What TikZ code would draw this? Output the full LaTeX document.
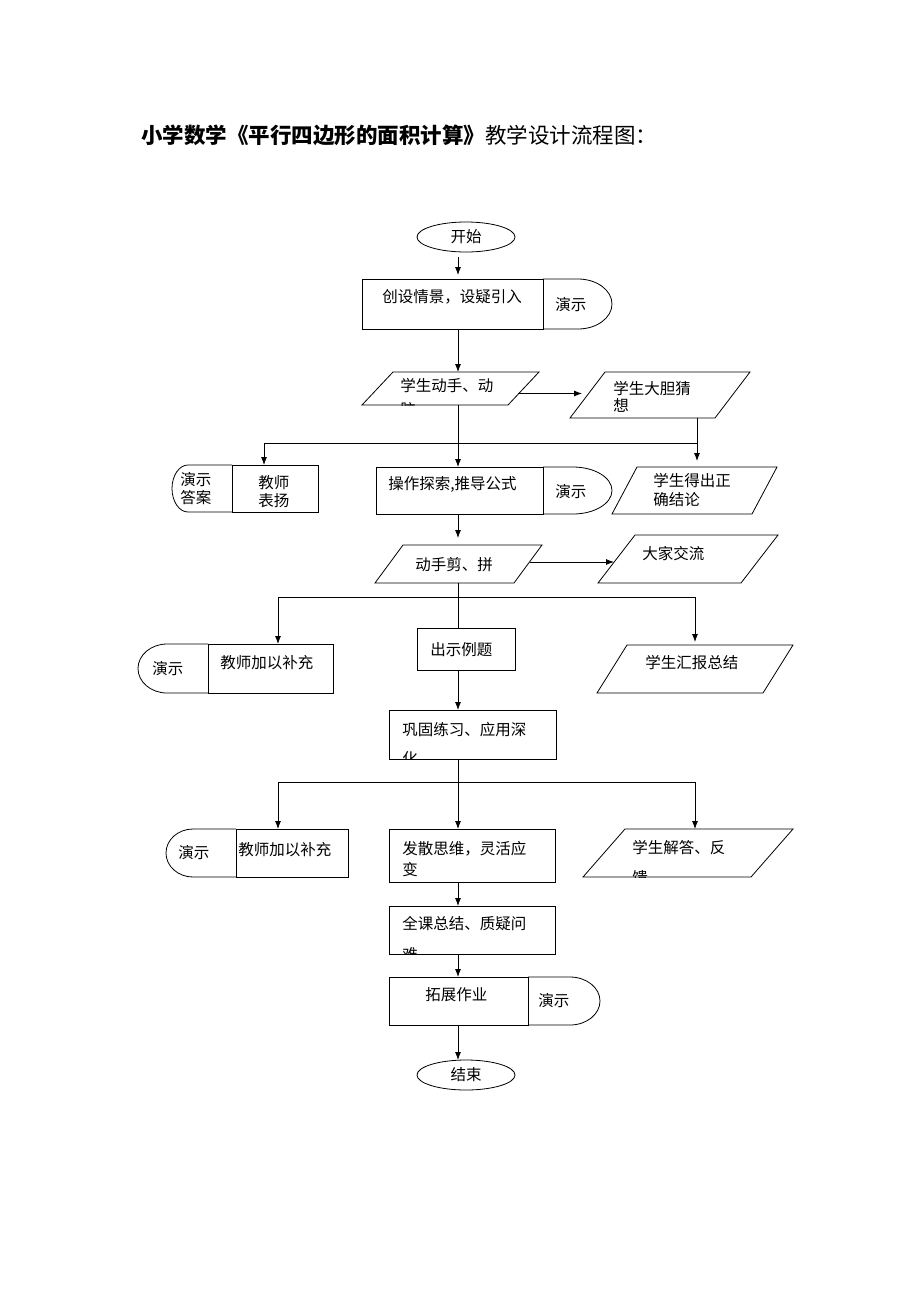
\documentclass[tikz,border=0pt]{standalone}
\usepackage{fontspec}
\setmainfont{Noto Sans CJK SC}
\usepackage{tikz}
\usetikzlibrary{arrows.meta,shapes.geometric}

\newcommand{\drawpara}[2]{\draw (#1.south west) -- ([xshift=#2pt]#1.north west) -- (#1.north east) -- ([xshift=-#2pt]#1.south east) -- cycle;}

\begin{document}
\begin{tikzpicture}[x=1pt,y=-1pt,line width=0.8pt]
  \tikzstyle{proc}=[draw, rectangle, inner sep=0pt, outer sep=0pt]
  \tikzstyle{io}=[rectangle, inner sep=0pt, outer sep=0pt]
  \tikzstyle{term}=[draw, ellipse, minimum width=98pt, minimum height=30pt, inner sep=0pt, outer sep=0pt, font=\fontsize{15.5}{18}\selectfont]
  \tikzstyle{txt}=[inner sep=0pt, anchor=west, align=left, font=\fontsize{15.5}{18}\selectfont]
  \tikzstyle{arr}=[-{Latex[length=8pt,width=6pt]}]

  \useasboundingbox (0,0) rectangle (920,1302);
  \coordinate (axis) at (458,0);

  \node[inner sep=0pt, anchor=west, font=\fontsize{21.5}{25}\selectfont] (title) at (141,135)
    {{\bfseries 小学数学《平行四边形的面积计算》}教学设计流程图：};

  \node[term] (start) at (466,237) {开始};

  \node[proc, minimum width=181pt, minimum height=50pt] (intro) at (452.5,304) {};
  \node[txt] (intro-t) at (382,297) {创设情景，设疑引入};
  \draw (intro.north east) -- ++(35,0) arc[start angle=90, end angle=-90, x radius=34pt, y radius=25pt] -- (intro.south east);
  \node[txt] (intro-d) at (555,305) {演示};

  \node[io, minimum width=177pt, minimum height=33pt] (hands) at (450.5,388.5) {};
  \drawpara{hands}{31}
  \begin{scope}
    \clip (hands.south west) rectangle (hands.north east);
    \node[txt] (hands-t) at (400,397.75) {学生动手、动\\[6.5pt]脑};
  \end{scope}

  \node[io, minimum width=180pt, minimum height=46pt] (guess) at (660,395) {};
  \drawpara{guess}{35}
  \node[txt] (guess-t) at (613,396.5) {学生大胆猜\\[-1pt]想};

  \node[proc, minimum width=86pt, minimum height=47pt] (praise) at (275,488.5) {};
  \node[txt] (praise-t) at (258,491.5) {教师\\表扬};
  \draw (praise.north west) -- ++(-44,0) arc[start angle=90, end angle=270, x radius=16pt, y radius=23.5pt] -- (praise.south west);
  \node[txt] (praise-d) at (180,488.5) {演示\\答案};

  \node[proc, minimum width=167pt, minimum height=47pt] (explore) at (459.5,490.5) {};
  \node[txt] (explore-t) at (388,484.5) {操作探索,推导公式};
  \draw (explore.north east) -- ++(30,0) arc[start angle=90, end angle=-90, x radius=39pt, y radius=23.5pt] -- (explore.south east);
  \node[txt] (explore-d) at (555,491.5) {演示};

  \node[io, minimum width=165pt, minimum height=47pt] (conclude) at (694.5,490.5) {};
  \drawpara{conclude}{25}
  \node[txt] (conclude-t) at (653,490.25) {学生得出正\\[1.5pt]确结论};

  \node[io, minimum width=167pt, minimum height=38pt] (cut) at (458.5,564) {};
  \drawpara{cut}{28}
  \node[txt] (cut-t) at (415,565) {动手剪、拼};

  \node[io, minimum width=180pt, minimum height=48pt] (share) at (688,559) {};
  \drawpara{share}{37}
  \node[txt] (share-t) at (642,553.5) {大家交流};

  \node[proc, minimum width=98pt, minimum height=42pt] (example) at (466,649) {};
  \node[txt] (example-t) at (430,649.5) {出示例题};

  \node[proc, minimum width=125pt, minimum height=49pt] (supp1) at (270.5,668.5) {};
  \node[txt] (supp1-t) at (220,662.5) {教师加以补充};
  \draw (supp1.north west) -- ++(-41,0) arc[start angle=90, end angle=270, x radius=29pt, y radius=24.5pt] -- (supp1.south west);
  \node[txt] (supp1-d) at (152,669) {演示};

  \node[io, minimum width=196pt, minimum height=48pt] (report) at (695,669) {};
  \drawpara{report}{30}
  \node[txt] (report-t) at (645,662.5) {学生汇报总结};

  \node[proc, minimum width=167pt, minimum height=49pt] (practice) at (472.5,734.5) {};
  \begin{scope}
    \clip (practice.north west) rectangle (practice.south east);
    \node[txt] (practice-t) at (402,744.25) {巩固练习、应用深\\[10.5pt]化};
  \end{scope}

  \node[proc, minimum width=112pt, minimum height=48pt] (supp2) at (292,853) {};
  \node[txt] (supp2-t) at (238,849.5) {教师加以补充};
  \draw (supp2.north west) -- ++(-43,0) arc[start angle=90, end angle=270, x radius=27pt, y radius=24pt] -- (supp2.south west);
  \node[txt] (supp2-d) at (178,852.5) {演示};

  \node[proc, minimum width=166pt, minimum height=53pt] (diverge) at (472,855.5) {};
  \node[txt] (diverge-t) at (402,859.5) {发散思维，灵活应\\[3pt]变};

  \node[io, minimum width=210pt, minimum height=48pt] (answer) at (688,853) {};
  \drawpara{answer}{42}
  \begin{scope}
    \clip (answer.south west) rectangle (answer.north east);
    \node[txt] (answer-t) at (632,863) {学生解答、反\\[12pt]馈};
  \end{scope}

  \node[proc, minimum width=166pt, minimum height=48pt] (summary) at (472,930) {};
  \begin{scope}
    \clip (summary.north west) rectangle (summary.south east);
    \node[txt] (summary-t) at (402,939.25) {全课总结、质疑问\\[13.5pt]难};
  \end{scope}

  \node[proc, minimum width=139pt, minimum height=48pt] (homework) at (458.5,1001) {};
  \node[txt] (homework-t) at (425,995) {拓展作业};
  \draw (homework.north east) -- ++(42,0) arc[start angle=90, end angle=-90, x radius=30pt, y radius=24pt] -- (homework.south east);
  \node[txt] (homework-d) at (538,1000.5) {演示};

  \node[term] (finish) at (466,1075) {结束};

  \draw[arr, shorten <=5pt, shorten >=4pt] (start.south -| axis) -- (intro.north -| axis);
  \draw[arr] (intro.south -| axis) -- (hands.north -| axis);
  \coordinate (hands-out) at (518,393.5);
  \draw[arr] (hands-out) -- ([xshift=12pt]hands-out -| guess.west);
  \draw[arr] (hands.south -| axis) -- (explore.north -| axis);
  \coordinate (fork1l) at (264,443);
  \coordinate (fork1r) at (697,443);
  \draw (fork1l) -- (fork1r);
  \draw[arr] (fork1l) -- (fork1l |- praise.north);
  \draw[arr, shorten >=6pt] (guess.south -| fork1r) -- (fork1r |- conclude.north);
  \draw[arr, shorten >=7pt] (explore.south -| axis) -- (cut.north -| axis);
  \coordinate (cut-out) at (530,562);
  \draw[arr] (cut-out) -- ([xshift=16pt]cut-out -| share.west);
  \draw (cut.south -| axis) -- (example.north -| axis);
  \coordinate (fork2l) at (278,597);
  \coordinate (fork2r) at (695,597);
  \draw (fork2l) -- (fork2r);
  \draw[arr] (fork2l) -- (fork2l |- supp1.north);
  \draw[arr, shorten >=3pt] (fork2r) -- (fork2r |- report.north);
  \draw[arr] (example.south -| axis) -- (practice.north -| axis);
  \draw[arr] (practice.south -| axis) -- (diverge.north -| axis);
  \coordinate (fork3l) at (278,782);
  \coordinate (fork3r) at (695,782);
  \draw (fork3l) -- (fork3r);
  \draw[arr] (fork3l) -- (fork3l |- supp2.north);
  \draw[arr] (fork3r) -- (fork3r |- answer.north);
  \draw[arr] (diverge.south -| axis) -- (summary.north -| axis);
  \draw[arr] (summary.south -| axis) -- (homework.north -| axis);
  \draw[arr] (homework.south -| axis) -- (finish.north -| axis);
\end{tikzpicture}
\end{document}
